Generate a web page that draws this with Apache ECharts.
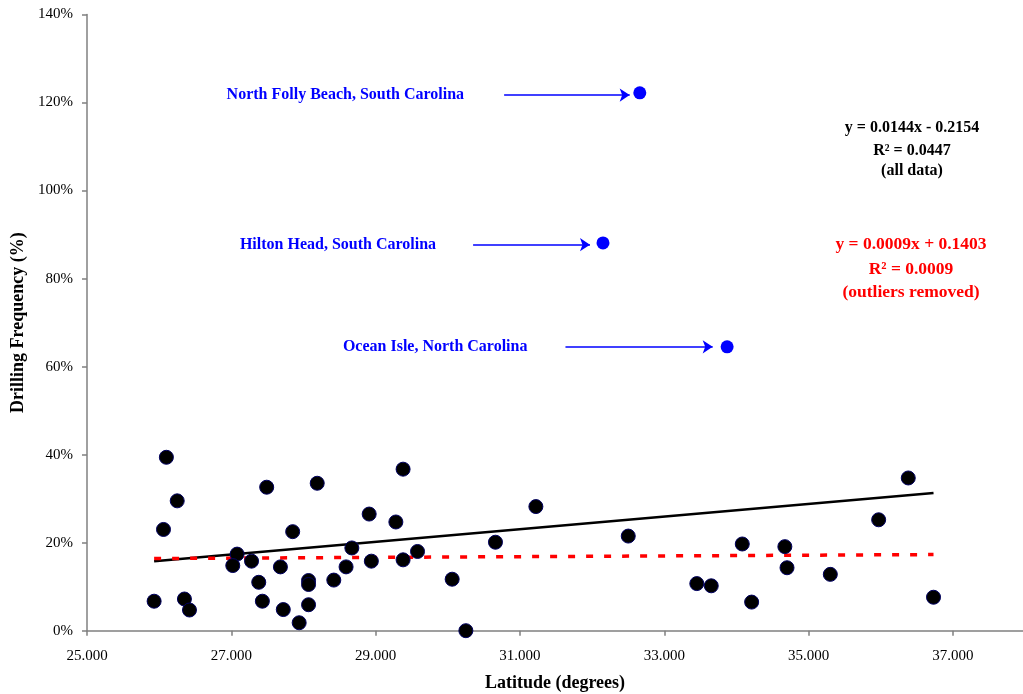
<!DOCTYPE html>
<html>
<head>
<meta charset="utf-8">
<script src="https://cdn.jsdelivr.net/npm/echarts@6/dist/echarts.min.js"></script>
<style>
  html, body { margin: 0; padding: 0; background: #fff; }
  #chart { width: 1023px; height: 694px; }
</style>
</head>
<body>
<div id="chart"></div>
<script>
// latitude (degrees) and drilling frequency (%)
var latitude = [25.93, 26.10, 26.06, 26.25, 26.35, 26.42, 27.08, 27.02, 27.28, 27.49,
  27.38, 27.43, 27.68, 27.72, 27.85, 27.94, 28.07, 28.07, 28.07, 28.19,
  28.42, 28.59, 28.67, 28.91, 28.94, 29.28, 29.38, 29.38, 29.58, 30.06,
  30.25, 30.66, 31.22, 32.50, 33.45, 33.65, 34.08, 34.21, 34.67, 34.70,
  35.30, 35.97, 36.38, 36.73]
var frequency = [6.7, 39.4, 23.0, 29.5, 7.2, 4.7, 17.4, 14.8, 15.8, 32.6,
  11.0, 6.7, 14.5, 4.8, 22.5, 1.8, 11.4, 10.5, 5.9, 33.5,
  11.5, 14.5, 18.8, 26.5, 15.8, 24.7, 36.7, 16.1, 18.0, 11.7,
  0.0, 20.1, 28.2, 21.5, 10.7, 10.2, 19.7, 6.5, 19.1, 14.3,
  12.8, 25.2, 34.7, 7.6]

var outlierNames = ['North Folly Beach, South Carolina', 'Hilton Head, South Carolina', 'Ocean Isle, North Carolina']
var outlierLat = [32.66, 32.15, 33.87]
var outlierFreq = [122.2, 88.1, 64.5]
var arrowFrom = [30.78, 30.35, 31.63]
var arrowTo = [32.52, 31.97, 33.67]
var arrowY = [121.7, 87.7, 64.5]

// trend line end points
var trendAll = [[25.93, 15.8], [36.73, 31.3]]
var trendNoOutliers = [[25.93, 16.4], [36.73, 17.3]]

var xTicks = [25, 27, 29, 31, 33, 35, 37]

var serif = '"Liberation Serif", "Times New Roman", serif'
var axisGray = '#808080'

var chart = echarts.init(document.getElementById('chart'))

var points = latitude.map(function (x, i) { return [x, frequency[i]] })
var outliers = outlierLat.map(function (x, i) { return [x, outlierFreq[i]] })
var labelGap = [40, 37, 38]
var arrows = outlierNames.map(function (name, i) {
  return [
    { name: name, coord: [arrowFrom[i], arrowY[i]], label: { distance: labelGap[i] } },
    { coord: [arrowTo[i], arrowY[i]] }
  ]
})

function eqText(x, y, text, color, size) {
  return {
    type: 'text', x: x, y: y,
    style: { text: text, fill: color, font: 'bold ' + size + 'px ' + serif, textAlign: 'center', textVerticalAlign: 'middle' }
  }
}

chart.setOption({
  animation: false,
  backgroundColor: '#fff',
  grid: { left: 87, right: 0, top: 14.5, bottom: 63.3, outerBoundsMode: 'none' },
  xAxis: {
    type: 'value',
    min: 25,
    max: 37.97,
    name: 'Latitude (degrees)',
    nameLocation: 'middle',
    nameGap: 44,
    nameTextStyle: { fontFamily: serif, fontWeight: 'bold', fontSize: 18, color: '#000' },
    splitLine: { show: false },
    axisLine: { lineStyle: { color: axisGray, width: 1.5 } },
    axisTick: { customValues: xTicks, length: 5, lineStyle: { color: axisGray, width: 1.5 } },
    axisLabel: {
      customValues: xTicks,
      margin: 18,
      fontFamily: serif,
      fontSize: 15,
      color: '#000',
      formatter: function (v) { return v.toFixed(3) }
    }
  },
  yAxis: {
    type: 'value',
    min: 0,
    max: 140,
    interval: 20,
    name: 'Drilling Frequency (%)',
    nameLocation: 'middle',
    nameGap: 60,
    nameTextStyle: { fontFamily: serif, fontWeight: 'bold', fontSize: 18, color: '#000' },
    splitLine: { show: false },
    axisLine: { show: true, lineStyle: { color: axisGray, width: 1.5 } },
    axisTick: { show: true, length: 5, lineStyle: { color: axisGray, width: 1.5 } },
    axisLabel: { margin: 14, fontFamily: serif, fontSize: 15, color: '#000', formatter: '{value}%' }
  },
  series: [
    {
      type: 'line',
      data: trendAll,
      symbol: 'none',
      lineStyle: { color: '#000', width: 2.5 },
      z: 1
    },
    {
      type: 'line',
      data: trendNoOutliers,
      symbol: 'none',
      lineStyle: { color: '#ff0000', width: 3.5, type: [7, 11] },
      z: 1
    },
    {
      type: 'scatter',
      data: points,
      symbolSize: 14,
      itemStyle: { color: '#000', borderColor: '#000060', borderWidth: 1, opacity: 1 },
      z: 3
    },
    {
      type: 'scatter',
      data: outliers,
      symbolSize: 13,
      itemStyle: { color: '#0000ff', opacity: 1 },
      z: 3,
      markLine: {
        silent: true,
        symbol: ['none', 'arrow'],
        symbolSize: 10,
        lineStyle: { color: '#0000ff', width: 1.5, type: 'solid' },
        label: {
          show: true,
          position: 'start',
          formatter: '{b}',
          fontFamily: serif,
          fontWeight: 'bold',
          fontSize: 16,
          color: '#0000ff'
        },
        data: arrows
      }
    }
  ],
  graphic: [
    eqText(912, 128, 'y = 0.0144x - 0.2154', '#000', 16),
    eqText(912, 151, 'R² = 0.0447', '#000', 16),
    eqText(912, 171, '(all data)', '#000', 16),
    eqText(911, 244, 'y = 0.0009x + 0.1403', '#ff0000', 17.5),
    eqText(911, 269, 'R² = 0.0009', '#ff0000', 17.5),
    eqText(911, 292, '(outliers removed)', '#ff0000', 17.5)
  ]
})
</script>
</body>
</html>
